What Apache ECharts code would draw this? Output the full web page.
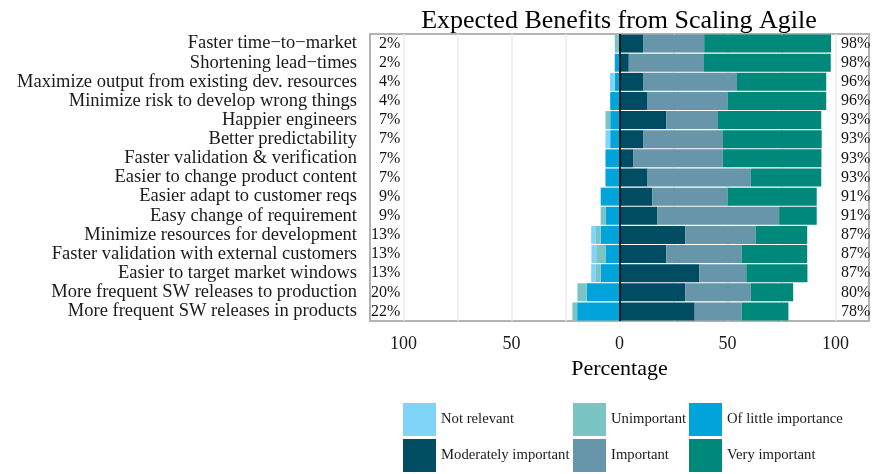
<!DOCTYPE html>
<html>
<head>
<meta charset="utf-8">
<script src="https://cdn.jsdelivr.net/npm/echarts@6/dist/echarts.min.js"></script>
<style>html,body{margin:0;padding:0;background:#fff}#c{width:872px;height:474px}</style>
</head>
<body>
<div id="c"></div>
<script>
const categories = [
  "Faster time\u2212to\u2212market",
  "Shortening lead\u2212times",
  "Maximize output from existing dev. resources",
  "Minimize risk to develop wrong things",
  "Happier engineers",
  "Better predictability",
  "Faster validation & verification",
  "Easier to change product content",
  "Easier adapt to customer reqs",
  "Easy change of requirement",
  "Minimize resources for development",
  "Faster validation with external customers",
  "Easier to target market windows",
  "More frequent SW releases to production",
  "More frequent SW releases in products"
];
// percentages (negative side shown left of zero)
const notRelevant       = [0, 0, 2.2, 0, 0, 2.2, 0, 0, 0, 0, 2.2, 2.2, 2.2, 0, 0];
const unimportant       = [2.2, 0, 0, 0, 2.2, 0, 0, 0, 0, 2.2, 2.2, 4.3, 2.2, 4.3, 2.2];
const ofLittleImportance= [0, 2.2, 2.2, 4.3, 4.3, 4.3, 6.5, 6.5, 8.7, 6.5, 8.7, 6.5, 8.7, 15.2, 19.6];
const moderatelyImportant = [10.9, 4.3, 10.9, 13.0, 21.7, 10.9, 6.5, 13.0, 15.2, 17.4, 30.4, 21.7, 37.0, 30.4, 34.8];
const important         = [28.3, 34.8, 43.5, 37.0, 23.9, 37.0, 41.3, 47.8, 34.8, 56.5, 32.6, 34.8, 21.7, 30.4, 21.7];
const veryImportant     = [58.7, 58.7, 41.3, 45.7, 47.8, 45.7, 45.7, 32.6, 41.3, 17.4, 23.9, 30.4, 28.3, 19.6, 21.7];
const leftLabels  = ["2%","2%","4%","4%","7%","7%","7%","7%","9%","9%","13%","13%","13%","20%","22%"];
const rightLabels = ["98%","98%","96%","96%","93%","93%","93%","93%","91%","91%","87%","87%","87%","80%","78%"];
const xTicks = [-100, -50, 0, 50, 100];
const gridValues = [-100, -75, -50, -25, 25, 50, 75, 100];
const leftLabelPos = -101.5;
const rightLabelPos = 102.5;

const colors = {
  "Not relevant": "#7FD4F7",
  "Unimportant": "#7BC4C4",
  "Of little importance": "#00A3DA",
  "Moderately important": "#004C63",
  "Important": "#6795A9",
  "Very important": "#00897B"
};
const serif = "Liberation Serif";
function neg(a){ return a.map(v => -v); }
function bar(name, data){
  return {
    name: name, type: 'bar', stack: 'all', data: data,
    barCategoryGap: '6%',
    itemStyle: { color: colors[name] },
    emphasis: { disabled: true }
  };
}
const pctLabel = { show: true, position: 'inside', formatter: p => p.name,
  fontFamily: serif, fontSize: 16, color: '#111', textBorderWidth: 0, textShadowBlur: 0, opacity: 1 };
const series = [
  {
    name: 'grid', type: 'scatter', data: [], silent: true, z: 1,
    markLine: {
      silent: true, symbol: 'none', label: { show: false }, z: 1,
      lineStyle: { color: '#ebebeb', width: 1.5, type: 'solid' },
      data: gridValues.map(v => ({ xAxis: v }))
    }
  },
  bar("Of little importance", neg(ofLittleImportance)),
  bar("Unimportant", neg(unimportant)),
  bar("Not relevant", neg(notRelevant)),
  bar("Moderately important", moderatelyImportant),
  bar("Important", important),
  bar("Very important", veryImportant),
  {
    name: 'zero', type: 'scatter', data: [], silent: true, z: 5,
    markLine: {
      silent: true, symbol: 'none', label: { show: false },
      lineStyle: { color: '#000', width: 1.5, type: 'solid' },
      data: [{ xAxis: 0 }]
    }
  },
  {
    name: 'leftLab', type: 'scatter', symbolSize: 0, silent: true, z: 6,
    itemStyle: { opacity: 1 },
    data: leftLabels.map((t, i) => ({ value: [leftLabelPos, categories[i]], name: t })),
    label: Object.assign({}, pctLabel, { align: 'right' })
  },
  {
    name: 'rightLab', type: 'scatter', symbolSize: 0, silent: true, z: 6,
    itemStyle: { opacity: 1 },
    data: rightLabels.map((t, i) => ({ value: [rightLabelPos, categories[i]], name: t })),
    label: Object.assign({}, pctLabel, { align: 'left' })
  }
];
function legendCol(left, names){
  return {
    left: left, top: 403, orient: 'vertical', padding: 0, height: 80,
    itemWidth: 33, itemHeight: 33, itemGap: 3,
    icon: 'rect', selectedMode: false,
    data: names,
    textStyle: { fontFamily: serif, fontSize: 14.7, color: '#1a1a1a' }
  };
}
const chart = echarts.init(document.getElementById('c'), null, { renderer: 'canvas' });
chart.setOption({
  animation: false,
  backgroundColor: '#fff',
  title: {
    text: 'Expected Benefits from Scaling Agile',
    left: 614, top: 3, textAlign: 'center',
    textStyle: { fontFamily: serif, fontSize: 26, fontWeight: 'normal', color: '#000' }
  },
  legend: [
    legendCol(403, ["Not relevant", "Moderately important"]),
    legendCol(573, ["Unimportant", "Important"]),
    legendCol(689, ["Of little importance", "Very important"])
  ],
  grid: { left: 370, right: 3, top: 34, bottom: 153, show: true, borderColor: '#b3b3b3', borderWidth: 2, containLabel: false },
  xAxis: {
    type: 'value', min: -115.5, max: 115.5,
    axisLine: { show: false },
    axisTick: { show: false },
    splitLine: { show: false },
    axisLabel: {
      customValues: xTicks, formatter: v => String(Math.abs(v)),
      fontFamily: serif, fontSize: 18, color: '#1a1a1a', margin: 14
    },
    name: 'Percentage', nameLocation: 'middle', nameGap: 31,
    nameTextStyle: { fontFamily: serif, fontSize: 22, color: '#000' }
  },
  yAxis: {
    type: 'category', data: categories, inverse: true,
    axisLine: { show: false },
    axisTick: { show: true, inside: false, length: 4, interval: 0, lineStyle: { color: '#b3b3b3', width: 1.5 }, alignWithLabel: true },
    axisLabel: { interval: 0, fontFamily: serif, fontSize: 18.5, color: '#1a1a1a', margin: 13 }
  },
  series: series
});
</script>
</body>
</html>
